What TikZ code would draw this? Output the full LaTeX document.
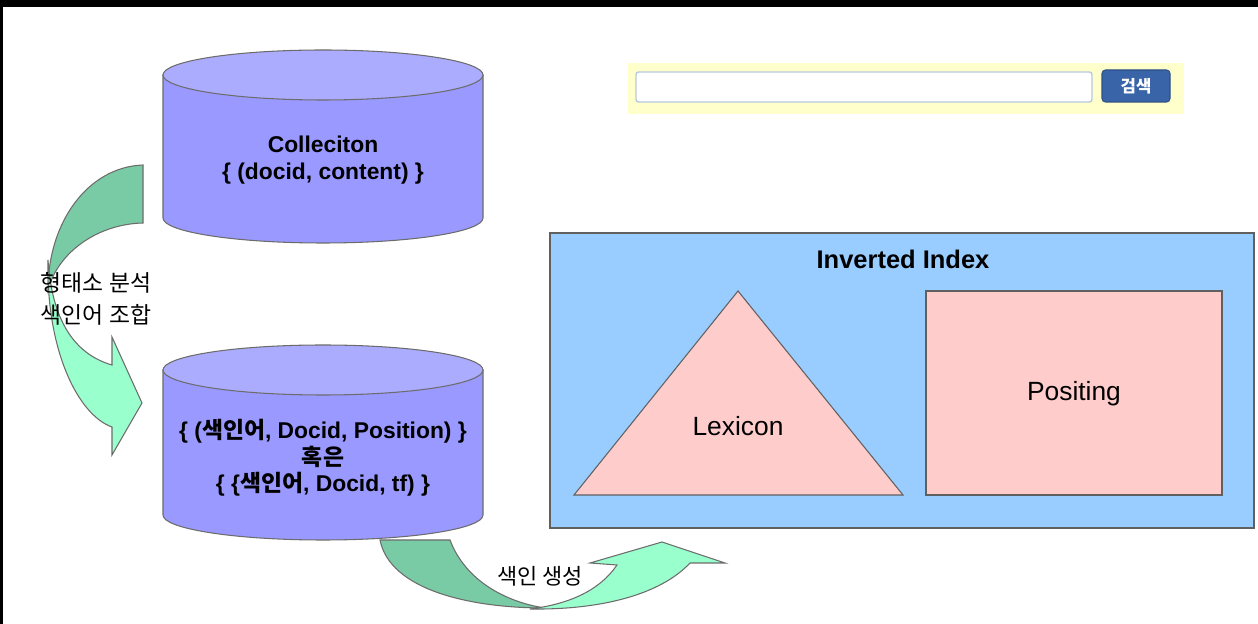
\documentclass[tikz,border=0pt]{standalone}
\usepackage{fontspec}
\setmainfont{Liberation Sans}
\newfontfamily\kr{Noto Sans CJK KR}
\usetikzlibrary{positioning}

\definecolor{cylside}{RGB}{153,153,255}
\definecolor{cyllid}{RGB}{172,172,255}
\definecolor{arrowdark}{RGB}{121,203,165}
\definecolor{arrowlight}{RGB}{153,255,204}
\definecolor{indexblue}{RGB}{153,204,255}
\definecolor{partpink}{RGB}{255,204,204}
\definecolor{searchbg}{RGB}{255,255,204}
\definecolor{inputline}{RGB}{184,200,222}
\definecolor{buttonblue}{RGB}{58,100,168}

\begin{document}
\begin{tikzpicture}[x=0.02cm, y=-0.02cm,
  outline/.style={draw=gray!85!black, line width=0.6pt},
  cylbody/.style={outline, fill=cylside},
  cyltop/.style={outline, fill=cyllid},
  backarrow/.style={outline, fill=arrowdark},
  frontarrow/.style={outline, fill=arrowlight},
  dbtext/.style={align=center, inner sep=0pt,
                 font=\bfseries\fontsize{13pt}{15pt}\selectfont},
  steptext/.style={align=center, inner sep=0pt,
                   font=\kr\fontsize{13pt}{18.2pt}\selectfont},
  partbox/.style={draw=gray!75!black, line width=0.6pt, fill=partpink},
  parttext/.style={inner sep=0pt, font=\fontsize{15pt}{18pt}\selectfont}]
  \useasboundingbox (0,0) rectangle (1258,624);
  \fill[white] (0,0) rectangle (1258,624);
  \fill[black] (0,0) rectangle (1258,7);
  \fill[black] (0,0) rectangle (3,624);

  % collection (top database)
  \filldraw[cylbody] (163,75) -- (163,218)
    arc[start angle=180, end angle=0, x radius=160, y radius=25] -- (483,75) -- cycle;
  \filldraw[cyltop] (323,75) ellipse [x radius=160, y radius=25];
  \node[dbtext] (coll) at (323,160) {Colleciton\\\{ (docid, content) \}};

  % postings (bottom database)
  \filldraw[cylbody] (163,370) -- (163,515)
    arc[start angle=180, end angle=0, x radius=160, y radius=25] -- (483,370) -- cycle;
  \filldraw[cyltop] (323,370) ellipse [x radius=160, y radius=25];
  \node[dbtext] (post) at (323,458)
    {\{ ({\kr 색인어}, Docid, Position) \}\\{\kr 혹은}\\\{ \{{\kr 색인어}, Docid, tf) \}};

  % curved arrow: analysis
  \filldraw[backarrow] (143,165) -- (143,223)
    .. controls (98,224) and (58,252) .. (48,290)
    .. controls (48,222) and (88,167) .. (143,165) -- cycle;
  \filldraw[frontarrow] (48,260)
    .. controls (46,350) and (78,415) .. (112,427) -- (112,455) -- (142,403)
    -- (112,337) -- (112,365)
    .. controls (74,354) and (52,320) .. (48,260) -- cycle;
  \node[steptext] (analyse) at (96,299) {형태소 분석\\색인어 조합};

  % curved arrow: indexing
  \filldraw[backarrow] (380,540) -- (450,540)
    .. controls (465,580) and (505,602) .. (545,608)
    .. controls (470,608) and (390,590) .. (380,540) -- cycle;
  \filldraw[frontarrow] (530,609)
    .. controls (600,610) and (660,595) .. (690,563) -- (725,563) -- (662,542)
    -- (590,563) -- (617,565)
    .. controls (600,590) and (570,604) .. (530,609) -- cycle;
  \node[steptext, font=\kr\fontsize{12.5pt}{15pt}\selectfont] (build) at (540,576) {색인 생성};

  % inverted index
  \filldraw[draw=gray!75!black, line width=1pt, fill=indexblue] (550,233) rectangle (1254,528);
  \node[inner sep=0pt, font=\bfseries\fontsize{14.5pt}{17pt}\selectfont] (inv) at (903,259) {Inverted Index};
  \filldraw[partbox] (738,291) -- (903,495) -- (574,495) -- cycle;
  \node[parttext] (lex) at (738,426) {Lexicon};
  \filldraw[partbox] (926,291) rectangle (1222,495);
  \node[parttext] (posting) at (1074,394) {Positing};

  % search bar
  \fill[searchbg] (628,63) rectangle (1184,114);
  \filldraw[draw=inputline, line width=0.8pt, fill=white, rounded corners=1.5pt]
    (636,72) rectangle (1092,102);
  \filldraw[draw=buttonblue!80!black, line width=0.6pt, fill=buttonblue, rounded corners=2pt]
    (1102,70) rectangle (1170,102);
  \node[inner sep=0pt, text=white, font=\kr\bfseries\fontsize{9.5pt}{11pt}\selectfont] (search) at (1136,86) {검색};
\end{tikzpicture}
\end{document}
